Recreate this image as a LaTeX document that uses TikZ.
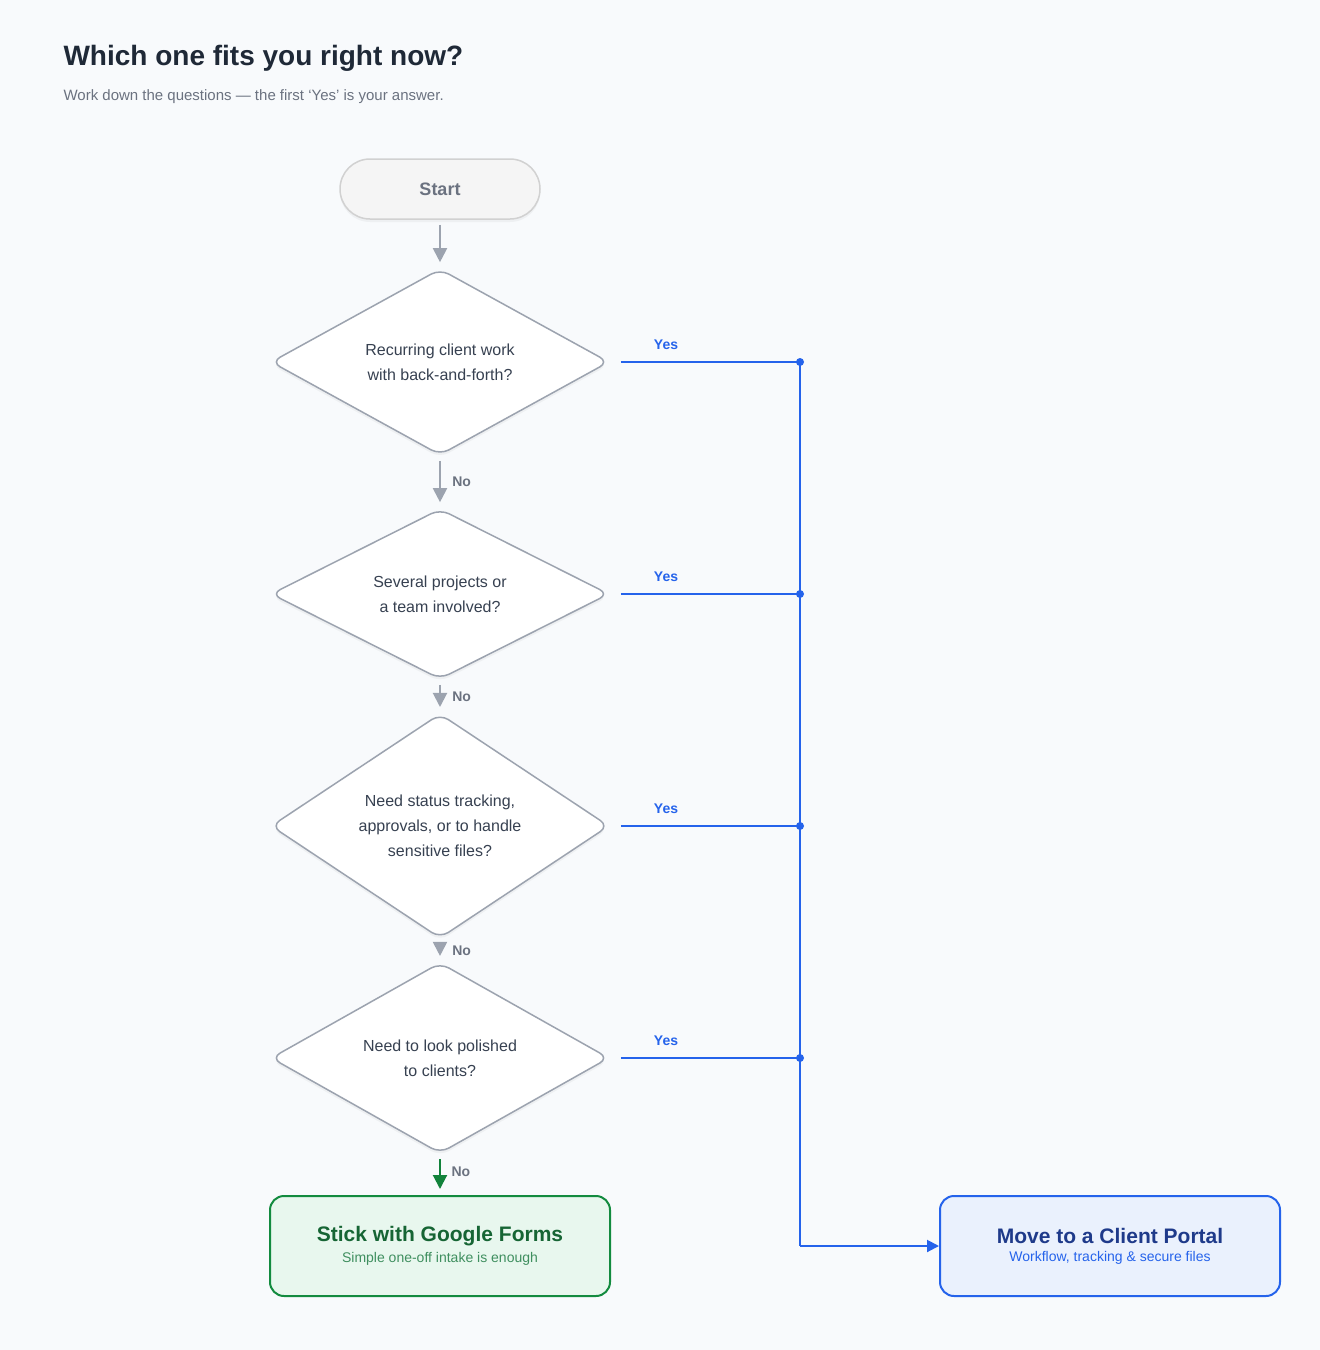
\documentclass[tikz,border=0pt]{standalone}
\usepackage{fontspec}
\setmainfont{Liberation Sans}
\usetikzlibrary{shapes.geometric,arrows.meta,shadows}
\definecolor{bg}{HTML}{F8FAFC}
\definecolor{ink}{HTML}{1F2937}
\definecolor{sub}{HTML}{6B7280}
\definecolor{grayline}{HTML}{9CA3AF}
\definecolor{dtext}{HTML}{374151}
\definecolor{blue}{HTML}{2563EB}
\definecolor{green}{HTML}{16A34A}
\definecolor{gfill}{HTML}{E8F7EE}
\definecolor{gdark}{HTML}{166534}
\definecolor{gsub}{HTML}{3F8F5F}
\definecolor{bfill}{HTML}{EAF1FD}
\definecolor{bdark}{HTML}{1E3A8A}
\begin{document}
\begin{tikzpicture}[x=1pt,y=-1pt,
 dia/.style={diamond,draw=grayline,line width=1.5pt,fill=white,minimum width=338pt,minimum height=166pt,inner sep=0pt,rounded corners=10pt,align=center,font=\fontsize{16}{25}\selectfont,text=dtext,drop shadow={opacity=0.08,shadow xshift=0pt,shadow yshift=-3pt}},
 noarr/.style={draw=grayline,line width=2pt,-{Triangle[length=14pt,width=14pt]},shorten <=5pt,shorten >=6pt},
 yes/.style={draw=blue,line width=2pt,shorten <=11pt},
 nolab/.style={font=\bfseries\fontsize{14}{16}\selectfont,text=sub,anchor=west},
 yeslab/.style={font=\bfseries\fontsize{14}{16}\selectfont,text=blue},
 dot/.style={circle,fill=blue,inner sep=0pt,minimum size=8pt},
 endbox/.style={rounded corners=14pt,line width=2pt,minimum width=340pt,minimum height=100pt,align=center}]
\fill[bg] (0,0) rectangle (1320,1350);
\useasboundingbox (0,0) rectangle (1320,1350);
\node[anchor=base west,font=\bfseries\fontsize{28}{32}\selectfont,text=ink] (title) at (60,65) {Which one fits you right now?};
\node[anchor=base west,font=\fontsize{15}{18}\selectfont,text=sub] (subt) at (60,100) {Work down the questions — the first ‘Yes’ is your answer.};
\node[draw=black!18,fill=black!4,line width=1.5pt,rounded corners=30pt,minimum width=200pt,minimum height=60pt,font=\bfseries\fontsize{18}{20}\selectfont,text=sub,drop shadow={opacity=0.08,shadow xshift=0pt,shadow yshift=-3pt}] (start) at (440,189) {Start};
\node[dia] (q1) at (440,362) {Recurring client work\\with back-and-forth?};
\node[dia] (q2) at (440,594) {Several projects or\\a team involved?};
\node[dia] (q3) at (440,826) {Need status tracking,\\approvals, or to handle\\sensitive files?};
\node[dia] (q4) at (440,1058) {Need to look polished\\to clients?};
\node[endbox,draw=green!85!black,fill=gfill] (gf) at (440,1246) {{\bfseries\fontsize{21}{24}\selectfont\color{gdark}Stick with Google Forms}\\[6pt]{\fontsize{14}{16}\selectfont\color{gsub}Simple one-off intake is enough}};
\node[endbox,draw=blue,fill=bfill] (cp) at (1110,1246) {{\bfseries\fontsize{21}{24}\selectfont\color{bdark}Move to a Client Portal}\\[6pt]{\fontsize{14}{16}\selectfont\color{blue}Workflow, tracking \& secure files}};
\draw[noarr] (start) -- (q1);
\draw[noarr] (q1) -- node[nolab,xshift=8pt]{No} (q2);
\draw[noarr] (q2) -- node[nolab,xshift=8pt]{No} (q3);
\draw[noarr] (q3) -- node[nolab,xshift=8pt]{No} (q4);
\draw[noarr,draw=green!80!black] (q4) -- (gf);
\node[nolab] (nol4) at (448,1172) {No};
\foreach \q/\y [count=\i] in {q1/362,q2/594,q3/826,q4/1058}{
  \node[dot] (j\i) at (800,\y) {};
  \draw[yes] (\q.east) -- (j\i.center);
  \node[yeslab] (y\i) at (666,\y-17) {Yes};
}
\coordinate (corner) at (800,1246);
\draw[blue,line width=2pt] (j1.center) -- (corner);
\draw[blue,line width=2pt,-{Triangle[length=12pt,width=12pt]}] (corner) -- (cp.west);
\end{tikzpicture}
\end{document}
